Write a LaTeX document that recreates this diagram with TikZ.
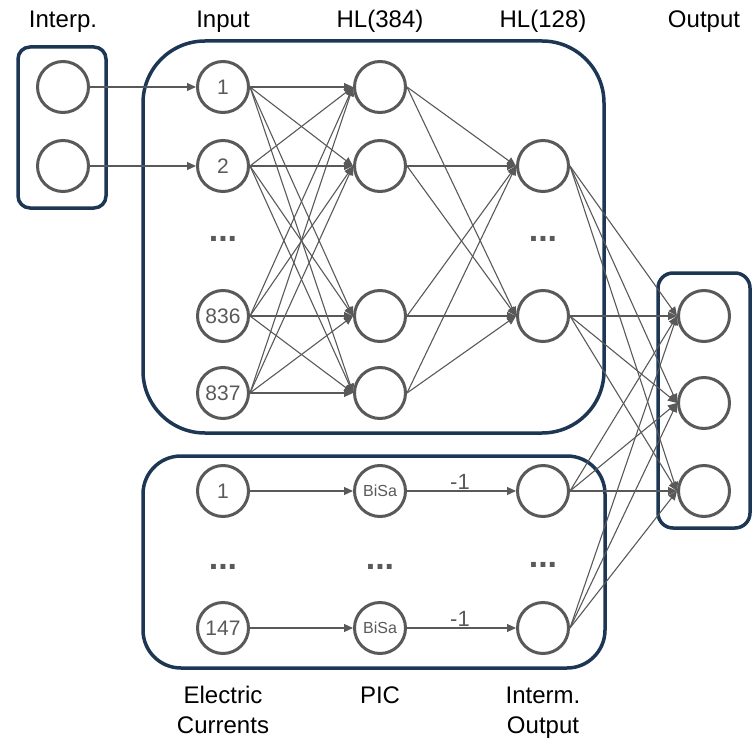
\documentclass[tikz,border=0pt]{standalone}
\usepackage{fontspec}
\setmainfont{Liberation Sans}
\usetikzlibrary{arrows.meta}
\definecolor{ngray}{RGB}{89,89,89}
\definecolor{navy}{RGB}{29,54,84}

\begin{document}
\begin{tikzpicture}[x=1pt,y=-1pt,
  neuron/.style={circle,draw=ngray,line width=3pt,minimum size=51pt,inner sep=0pt,
    text=ngray,font=\fontsize{21}{21}\selectfont},
  small/.style={font=\fontsize{16}{16}\selectfont},
  group/.style={draw=navy,line width=3.5pt},
  conn/.style={draw=ngray,line width=1.1pt,-{Triangle[length=9pt,width=8pt]}},
  head/.style={anchor=base,font=\fontsize{24}{24}\selectfont},
  dots/.style={anchor=base,text=ngray,font=\fontsize{34}{34}\selectfont\bfseries},
  wlabel/.style={anchor=base,text=ngray,font=\fontsize{22}{22}\selectfont}]

\useasboundingbox (0,0) rectangle (754,738);

% group frames
\draw[group,rounded corners=12pt] (18,47) rectangle (106,208);
\draw[group,rounded corners=62pt] (143,41) rectangle (604,433);
\draw[group,rounded corners=38pt] (143,456) rectangle (605,668);
\draw[group,rounded corners=15pt] (658,273) rectangle (750,528);

% column headings
\node[head] (tInterp) at (63,28) {Interp.};
\node[head] (tInput) at (223,28) {Input};
\node[head] (tHLa) at (380,28) {HL(384)};
\node[head] (tHLb) at (543,28) {HL(128)};
\node[head] (tOut) at (704,28) {Output};
\node[head] (tElec) at (223,703) {Electric};
\node[head] (tCurr) at (223,733) {Currents};
\node[head] (tPIC) at (380,703) {PIC};
\node[head] (tInterm) at (543,703) {Interm.};
\node[head] (tIOut) at (543,733) {Output};

% interpolation units
\node[neuron] (p1) at (63,87) {};
\node[neuron] (p2) at (63,166) {};

% input layer
\node[neuron] (i1) at (223,87) {1};
\node[neuron] (i2) at (223,166) {2};
\node[neuron] (i3) at (223,316) {836};
\node[neuron] (i4) at (223,393) {837};
\node[dots] (di) at (223,241) {...};

% hidden layer 384
\node[neuron] (h1) at (380,87) {};
\node[neuron] (h2) at (380,166) {};
\node[neuron] (h3) at (380,316) {};
\node[neuron] (h4) at (380,393) {};

% hidden layer 128
\node[neuron] (g1) at (543,166) {};
\node[neuron] (g2) at (543,316) {};
\node[dots] (dg) at (543,241) {...};

% output layer
\node[neuron] (o1) at (704,316) {};
\node[neuron] (o2) at (704,403) {};
\node[neuron] (o3) at (704,491) {};

% electric currents branch
\node[neuron] (e1) at (223,491) {1};
\node[neuron] (e2) at (223,628) {147};
\node[neuron,small] (b1) at (380,491) {BiSa};
\node[neuron,small] (b2) at (380,628) {BiSa};
\node[neuron] (m1) at (543,491) {};
\node[neuron] (m2) at (543,628) {};
\node[dots] (de) at (223,569) {...};
\node[dots] (db) at (380,569) {...};
\node[dots] (dm) at (543,567) {...};

% connections: every link leaves the east point and enters the west point
\draw[conn] (p1.east) -- (i1.west);
\draw[conn] (p2.east) -- (i2.west);
\foreach \a in {i1,i2,i3,i4}
  \foreach \b in {h1,h2,h3,h4}
    \draw[conn] (\a.east) -- (\b.west);
\foreach \a in {h1,h2,h3,h4}
  \foreach \b in {g1,g2}
    \draw[conn] (\a.east) -- (\b.west);
\foreach \a in {g1,g2,m1,m2}
  \foreach \b in {o1,o2,o3}
    \draw[conn] (\a.east) -- (\b.west);
\draw[conn] (e1.east) -- (b1.west);
\draw[conn] (e2.east) -- (b2.west);
\draw[conn] (b1.east) -- (m1.west);
\draw[conn] (b2.east) -- (m2.west);
\node[wlabel] (w1) at (460,489) {-1};
\node[wlabel] (w2) at (460,626) {-1};

\end{tikzpicture}
\end{document}
